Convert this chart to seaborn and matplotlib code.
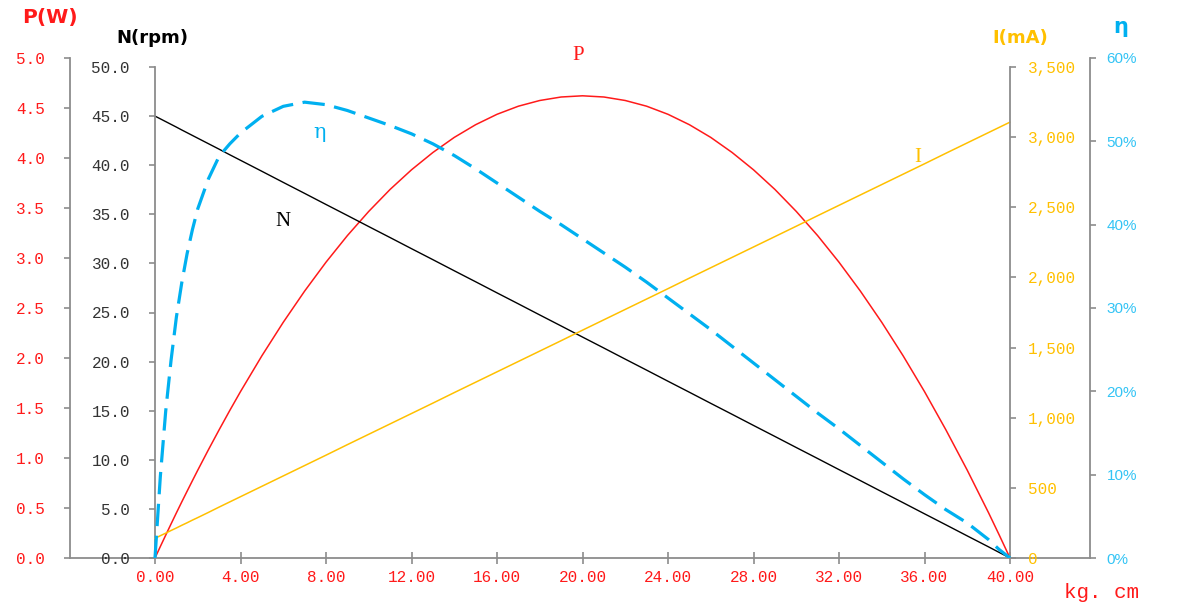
import matplotlib
matplotlib.use('Agg')
import matplotlib.pyplot as plt
import seaborn as sns
from matplotlib.ticker import FormatStrFormatter, FuncFormatter

# torque in kg.cm
torque = [0, 0.25, 0.5, 0.75, 1, 1.25, 1.5, 1.75, 2, 2.5, 3, 3.5, 4, 5, 6, 7,
          8, 9, 10, 11, 12, 13, 14, 15, 16, 17, 18, 19, 20, 21, 22, 23, 24,
          25, 26, 27, 28, 29, 30, 31, 32, 33, 34, 35, 36, 37, 38, 39, 39.5, 40]
# speed N (rpm)
speed_rpm = [45.0, 44.72, 44.44, 44.16, 43.88, 43.59, 43.31, 43.03, 42.75,
             42.19, 41.63, 41.06, 40.5, 39.38, 38.25, 37.13, 36.0, 34.88,
             33.75, 32.63, 31.5, 30.38, 29.25, 28.13, 27.0, 25.88, 24.75,
             23.63, 22.5, 21.38, 20.25, 19.13, 18.0, 16.88, 15.75, 14.63, 13.5,
             12.38, 11.25, 10.13, 9.0, 7.88, 6.75, 5.63, 4.5, 3.38, 2.25, 1.13,
             0.56, 0.0]
# current I (mA)
current_ma = [140, 159, 177, 196, 214, 233, 251, 270, 288, 325, 363, 400, 437,
              511, 585, 659, 733, 808, 882, 956, 1030, 1104, 1179, 1253, 1327,
              1401, 1475, 1549, 1624, 1698, 1772, 1846, 1920, 1995, 2069, 2143,
              2217, 2291, 2365, 2440, 2514, 2588, 2662, 2736, 2810, 2885, 2959,
              3033, 3070, 3107]
# output power P (W)
power_w = [0.0, 0.115, 0.228, 0.340, 0.451, 0.560, 0.667, 0.773, 0.878, 1.083,
           1.282, 1.476, 1.664, 2.022, 2.357, 2.669, 2.958, 3.224, 3.466, 3.686,
           3.882, 4.055, 4.206, 4.333, 4.437, 4.518, 4.575, 4.610, 4.622, 4.610,
           4.575, 4.518, 4.437, 4.333, 4.206, 4.055, 3.882, 3.686, 3.466, 3.224,
           2.958, 2.669, 2.357, 2.022, 1.664, 1.282, 0.878, 0.451, 0.228, 0.0]
# efficiency (%)
efficiency = [0.0, 9.8, 17.6, 23.7, 28.9, 33.0, 36.5, 39.4, 41.9, 45.5, 48.2,
              49.7, 51.0, 53.0, 54.2, 54.7, 54.4, 53.7, 52.8, 51.9, 50.9, 49.7,
              48.3, 46.7, 45.0, 43.3, 41.6, 40.0, 38.3, 36.6, 34.9, 33.1, 31.2,
              29.3, 27.4, 25.4, 23.4, 21.4, 19.4, 17.4, 15.5, 13.5, 11.5, 9.5,
              7.6, 5.8, 4.2, 2.2, 1.0, 0.0]

RED = '#FF1A1A'
GOLD = '#FFC000'
CYAN = '#00B0F0'
GRAY = '#8c8c8c'

sns.set_style('white')

W, H = 1194, 609
fig = plt.figure(figsize=(W / 100, H / 100), dpi=100)

# main axes carries P on its left spine and the torque axis
ax_p = fig.add_axes([70 / W, 1 - 558 / H, 1020 / W, 500 / H])
ax_p.set_xlim(-85 / 21.375, 935 / 21.375)
ax_p.set_ylim(0, 5.0)

ax_n = ax_p.twinx()
ax_i = ax_p.twinx()
ax_e = ax_p.twinx()

sns.lineplot(x=torque, y=power_w, ax=ax_p, color=RED, lw=1.1, legend=False)
sns.lineplot(x=torque, y=speed_rpm, ax=ax_n, color='black', lw=1.0, legend=False)
sns.lineplot(x=torque, y=current_ma, ax=ax_i, color=GOLD, lw=1.1, legend=False)
sns.lineplot(x=torque, y=efficiency, ax=ax_e, color=CYAN, lw=2.3,
             linestyle=(0, (7, 3)), legend=False)

for a in (ax_p, ax_n, ax_i, ax_e):
    for s in a.spines.values():
        s.set_visible(False)
        s.set_color(GRAY)
        s.set_linewidth(1.3)
    a.set_xlabel('')
    a.set_ylabel('')

mono = 'Liberation Mono'

# P axis
ax_p.spines['left'].set_visible(True)
ax_p.spines['bottom'].set_visible(True)
ax_p.set_yticks([i * 0.5 for i in range(11)])
ax_p.yaxis.set_major_formatter(FormatStrFormatter('%.1f'))
ax_p.tick_params(axis='y', left=True, direction='out', length=4, width=1.2,
                 color=GRAY, pad=14, labelsize=11.5, labelcolor=RED,
                 labelfontfamily=mono)

# torque axis
ax_p.set_xticks(range(0, 41, 4))
ax_p.xaxis.set_major_formatter(FormatStrFormatter('%.2f'))
ax_p.tick_params(axis='x', bottom=True, direction='inout', length=8, width=1.2,
                 color=GRAY, pad=5, labelsize=11.5, labelcolor=RED,
                 labelfontfamily=mono)

# N axis at torque 0
ax_n.spines['left'].set_visible(True)
ax_n.spines['left'].set_position(('data', 0))
ax_n.set_ylim(0, 50 * 500 / 491)
ax_n.spines['left'].set_bounds(0, 50)
ax_n.yaxis.set_ticks_position('left')
ax_n.set_yticks(range(0, 51, 5))
ax_n.yaxis.set_major_formatter(FormatStrFormatter('%.1f'))
ax_n.tick_params(axis='y', direction='out', length=4, width=1.2, color=GRAY,
                 pad=14, labelsize=11.5, labelcolor='#333333',
                 labelfontfamily=mono)

# I axis at torque 40
ax_i.spines['right'].set_visible(True)
ax_i.spines['right'].set_position(('data', 40))
ax_i.set_ylim(0, 3500 * 500 / 491)
ax_i.spines['right'].set_bounds(0, 3500)
ax_i.set_yticks(range(0, 3501, 500))
ax_i.yaxis.set_major_formatter(FuncFormatter(lambda v, p: f'{v:,.0f}'))
ax_i.tick_params(axis='y', direction='out', length=4, width=1.2, color=GRAY,
                 pad=9, labelsize=11.5, labelcolor=GOLD, labelfontfamily=mono)

# efficiency axis at the far right
ax_e.spines['right'].set_visible(True)
ax_e.set_ylim(0, 60)
ax_e.set_yticks(range(0, 61, 10))
ax_e.yaxis.set_major_formatter(FormatStrFormatter('%d%%'))
ax_e.tick_params(axis='y', direction='out', length=4, width=1.2, color=GRAY,
                 pad=8, labelsize=11, labelcolor='#33C4F5',
                 labelfontfamily='Liberation Sans')

for a in (ax_n, ax_i, ax_e):
    a.set_xlim(ax_p.get_xlim())

# curve labels
ax_p.text(19.8, 5.02, 'P', color=RED, fontsize=15, family='Liberation Serif',
          ha='center', va='center')
ax_p.text(7.7, 4.25, 'η', color=CYAN, fontsize=15, family='DejaVu Serif',
          ha='center', va='center')
ax_p.text(6.0, 3.36, 'N', color='black', fontsize=15, family='Liberation Serif',
          ha='center', va='center')
ax_p.text(35.7, 4.01, 'I', color=GOLD, fontsize=15, family='Liberation Serif',
          ha='center', va='center')

# axis titles
fig.text(50 / W, 1 - 18 / H, 'P(W)', color=RED, fontsize=14.5, weight='bold',
         ha='center', va='center')
fig.text(152 / W, 1 - 38 / H, 'N(rpm)', color='black', fontsize=13,
         weight='bold', ha='center', va='center')
fig.text(1020 / W, 1 - 38 / H, 'I(mA)', color=GOLD, fontsize=13,
         weight='bold', ha='center', va='center')
fig.text(1121 / W, 1 - 27 / H, 'η', color=CYAN, fontsize=15, weight='bold',
         ha='center', va='center')
fig.text(1101 / W, 1 - 593 / H, 'kg. cm', color=RED, fontsize=15,
         family=mono, ha='center', va='center')

fig.savefig('out.png', dpi=100)
